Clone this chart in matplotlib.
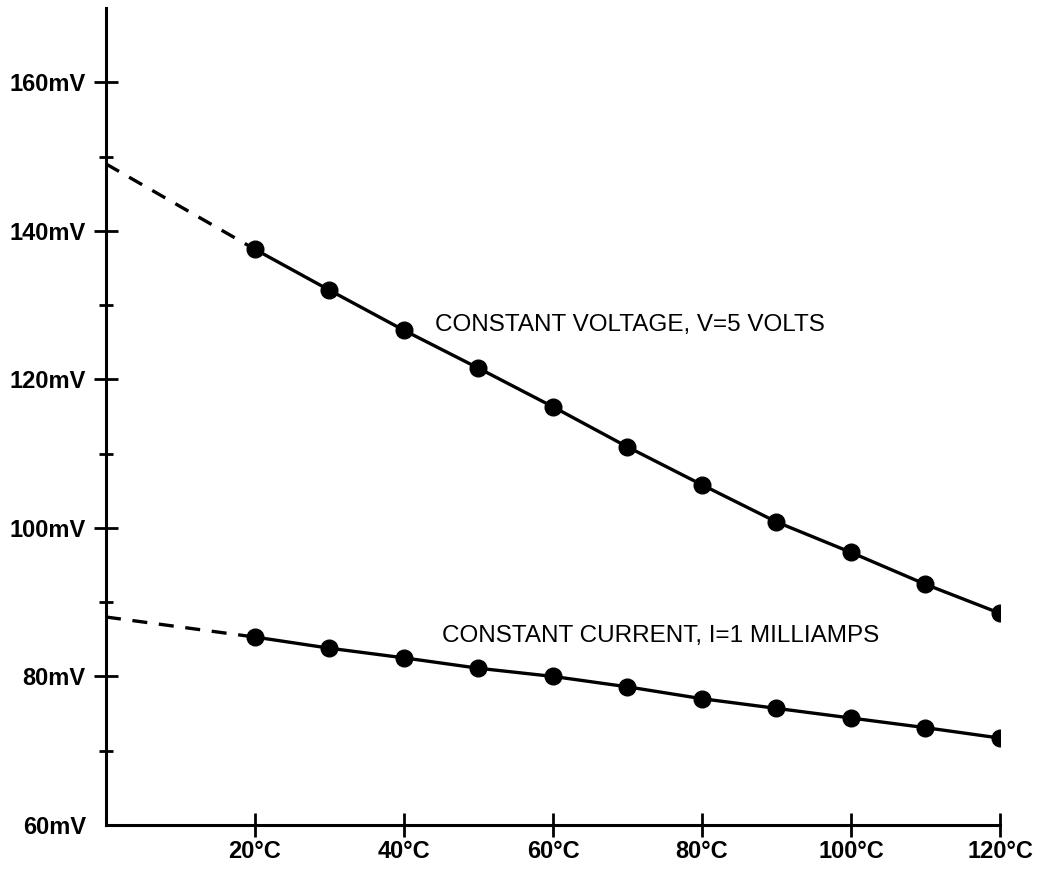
import matplotlib
matplotlib.use("Agg")
import matplotlib.pyplot as plt

plt.rcParams['font.family'] = ['Liberation Sans', 'DejaVu Sans']

# temperature in deg C
temps = [20, 30, 40, 50, 60, 70, 80, 90, 100, 110, 120]

# measured output, mV
v_const_voltage = [137.5, 132.0, 126.6, 121.5, 116.3, 110.9, 105.8, 100.8, 96.7, 92.4, 88.5]
v_const_current = [85.3, 83.8, 82.5, 81.1, 80.0, 78.6, 77.0, 75.7, 74.4, 73.1, 71.7]

# extrapolation back to 0 deg C
extrap_t = [0, 20]
extrap_voltage = [149.0, 137.5]
extrap_current = [88.0, 85.3]

xticks = [20, 40, 60, 80, 100, 120]
xlabels = ["20°C", "40°C", "60°C", "80°C", "100°C", "120°C"]
yticks = [60, 80, 100, 120, 140, 160]
ylabels = ["60mV", "80mV", "100mV", "120mV", "140mV", "160mV"]
yminor = [70, 90, 110, 130, 150]

fig = plt.figure(figsize=(10.4, 8.74), dpi=100)
ax = fig.add_axes([0.1019, 0.0561, 0.8596, 0.9348])

ax.plot(temps, v_const_voltage, color='black', lw=2.4, marker='o', ms=12)
ax.plot(temps, v_const_current, color='black', lw=2.4, marker='o', ms=12)
ax.plot(extrap_t, extrap_voltage, color='black', lw=2.4, ls=(0, (4.5, 3.5)))
ax.plot(extrap_t, extrap_current, color='black', lw=2.4, ls=(0, (4.5, 3.5)))

ax.text(44.2, 127.3, "CONSTANT VOLTAGE, V=5 VOLTS", fontsize=17.5, va='center', ha='left')
ax.text(45.1, 85.4, "CONSTANT CURRENT, I=1 MILLIAMPS", fontsize=17.5, va='center', ha='left')

ax.set_xlim(0, 120)
ax.set_ylim(60, 170)
ax.set_xticks(xticks)
ax.set_xticklabels(xlabels, fontsize=17, fontweight='bold')
ax.set_yticks(yticks)
ax.set_yticklabels(ylabels, fontsize=17, fontweight='bold')
ax.set_yticks(yminor, minor=True)

ax.spines['top'].set_visible(False)
ax.spines['right'].set_visible(False)
for s in ['left', 'bottom']:
    ax.spines[s].set_linewidth(2.2)

ax.tick_params(axis='both', which='major', direction='inout', length=17, width=2, pad=4)
ax.tick_params(axis='y', which='minor', direction='inout', length=10, width=2)
ax.tick_params(axis='y', which='major', pad=6)
ax.tick_params(axis='x', which='major', pad=2)
ax.yaxis.get_major_ticks()[0].tick1line.set_visible(False)
for lbl in ax.get_xticklabels() + ax.get_yticklabels():
    lbl.set_clip_on(False)

fig.savefig("out.png", dpi=100, facecolor='white')
